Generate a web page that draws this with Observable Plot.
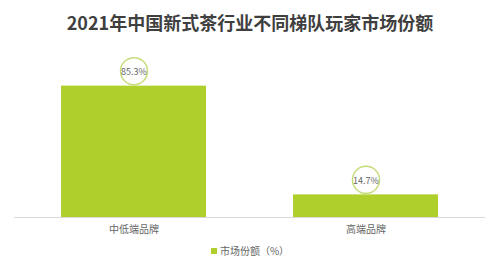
<!DOCTYPE html>
<html>
<head>
<meta charset="utf-8">
<script src="https://cdn.jsdelivr.net/npm/d3@7"></script>
<script src="https://cdn.jsdelivr.net/npm/@observablehq/plot@0.6"></script>
<style>
  body { margin: 0; background: #fff; font-family: "Noto Sans CJK SC", "Noto Sans", sans-serif; }
  #wrap { width: 500px; height: 264px; position: relative; }
  .title { height: 44px; line-height: 44px; text-align: center; font-size: 18px; font-weight: bold; color: #3f3f3f; }
  .legend { height: 22px; line-height: 22px; text-align: center; font-size: 10px; color: #666; }
  .legend .sw { display: inline-block; width: 6px; height: 6px; background: #afd02c; margin-right: 3px; vertical-align: 1px; }
</style>
</head>
<body>
<div id="wrap">
  <div class="title">2021年中国新式茶行业不同梯队玩家市场份额</div>
  <div id="chart"></div>
  <div class="legend"><span class="sw"></span>市场份额（%）</div>
</div>
<script>
// Market share by brand tier (%)
const tiers = ["中低端品牌", "高端品牌"];
const shares = [85.3, 14.7];

const data = tiers.map((t, i) => ({tier: t, share: shares[i]}));
const green = "#afd02c";

const chart = Plot.plot({
  width: 500,
  height: 196,
  marginTop: 19,
  marginBottom: 23,
  marginLeft: 14,
  marginRight: 15,
  style: {fontFamily: "'Noto Sans CJK SC', sans-serif", fontSize: "10px", color: "#666"},
  x: {domain: tiers, paddingInner: 0.375, paddingOuter: 0.2, label: null},
  y: {domain: [0, 100], axis: null},
  marks: [
    Plot.barY(data, {x: "tier", y: "share", fill: green}),
    Plot.ruleY([0], {stroke: "#d9d9d9", strokeWidth: 1}),
    Plot.axisX({tickSize: 0, tickPadding: 8, fontSize: 10, fill: "#666", label: null}),
    Plot.dot(data, {x: "tier", y: "share", dy: -15, r: 13.5, fill: "white", stroke: "#c6dd7c", strokeWidth: 1.5}),
    Plot.text(data, {x: "tier", y: "share", dy: -14, text: d => d.share.toFixed(1) + "%", fontSize: 9, fill: "#666"})
  ]
});
document.getElementById("chart").appendChild(chart);
</script>
</body>
</html>
